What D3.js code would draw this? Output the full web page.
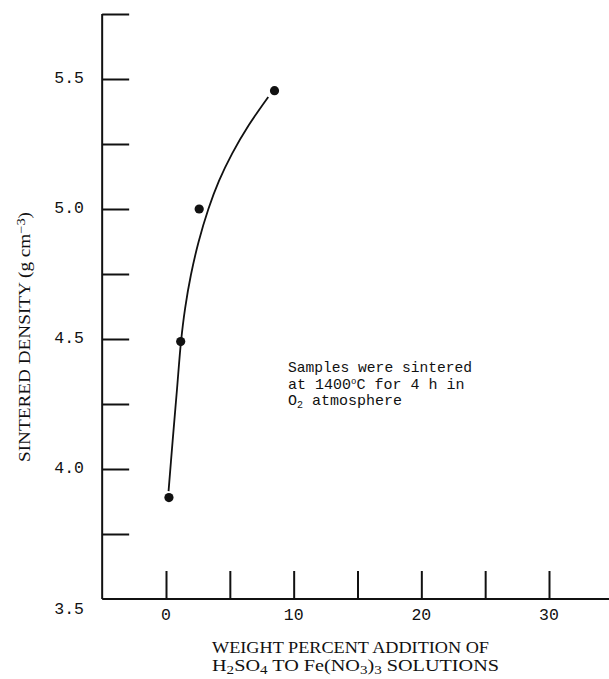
<!DOCTYPE html>
<html>
<head>
<meta charset="utf-8">
<script src="https://cdn.jsdelivr.net/npm/d3@7"></script>
<style>
  html, body { margin: 0; padding: 0; background: #fff; }
  svg { display: block; }
</style>
</head>
<body>
<svg id="chart" width="609" height="679"></svg>
<script>
// ---- data ----
const additionWt = [0.23, 1.15, 2.6, 8.5];          // wt% H2SO4 added
const sinteredDensity = [3.89, 4.49, 5.0, 5.455];   // g cm^-3

// hand-drawn fit curve
const curveWt      = [0.20, 0.52, 0.85, 1.18, 1.50, 1.95, 2.55, 3.32, 4.15, 5.20, 6.49, 8.01];
const curveDensity = [3.915, 4.108, 4.30, 4.492, 4.619, 4.746, 4.873, 5.00, 5.108, 5.215, 5.323, 5.431];

const xTickValues = [0, 5, 10, 15, 20, 25, 30];
const xTickLabels = ["0", "10", "20", "30"];
const yTickValues = [3.75, 4.0, 4.25, 4.5, 4.75, 5.0, 5.25, 5.5, 5.75];
const yTickLabels = ["3.5", "4.0", "4.5", "5.0", "5.5"];

const xDomain = [-5, 34.7];
const yDomain = [3.5, 5.75];

const noteLines = ["Samples were sintered", "at 1400", "C for 4 h in", "O", "2", " atmosphere"];

// ---- drawing ----
const svg = d3.select("#chart");
const x = d3.scaleLinear().domain([0, 30]).range([166, 549]);
const y = d3.scaleLinear().domain(yDomain).range([599, 14]);

const ink = "#111";
const monoFont = "'Liberation Mono', 'DejaVu Sans Mono', monospace";
const serifFont = "'Liberation Serif', 'DejaVu Serif', serif";

// axis frame lines
svg.append("line")
  .attr("x1", x(xDomain[0])).attr("x2", x(xDomain[0]))
  .attr("y1", y(yDomain[0])).attr("y2", y(yDomain[1]))
  .attr("stroke", ink).attr("stroke-width", 2);
svg.append("line")
  .attr("x1", x(xDomain[0])).attr("x2", x(xDomain[1]))
  .attr("y1", y(yDomain[0])).attr("y2", y(yDomain[0]))
  .attr("stroke", ink).attr("stroke-width", 2);

// y ticks (pointing inward)
const yAxis = d3.axisRight(y).tickValues(yTickValues).tickSize(27).tickFormat("");
const gy = svg.append("g").attr("transform", `translate(${x(xDomain[0])},0)`).call(yAxis);
gy.select(".domain").remove();
gy.selectAll(".tick line").attr("stroke", ink).attr("stroke-width", 2);

// x ticks (pointing upward)
const xAxis = d3.axisTop(x).tickValues(xTickValues).tickSize(28).tickFormat("");
const gx = svg.append("g").attr("transform", `translate(0,${y(yDomain[0])})`).call(xAxis);
gx.select(".domain").remove();
gx.selectAll(".tick line").attr("stroke", ink).attr("stroke-width", 2);

// y tick labels
svg.selectAll("text.ylab").data(yTickLabels).enter().append("text")
  .attr("class", "ylab")
  .attr("x", 84)
  .attr("y", d => y(+d) + (+d === 3.5 ? 15 : 4))
  .attr("text-anchor", "end")
  .attr("font-family", monoFont).attr("font-size", 16.5)
  .attr("fill", ink)
  .text(d => d);

// x tick labels
svg.selectAll("text.xlab").data(xTickLabels).enter().append("text")
  .attr("class", "xlab")
  .attr("x", d => x(+d))
  .attr("y", 620)
  .attr("text-anchor", "middle")
  .attr("font-family", monoFont).attr("font-size", 16.5)
  .attr("fill", ink)
  .text(d => d);

// fitted curve
const curvePts = curveWt.map((w, i) => [w, curveDensity[i]]);
svg.append("path")
  .datum(curvePts)
  .attr("d", d3.line().x(d => x(d[0])).y(d => y(d[1])).curve(d3.curveCatmullRom.alpha(0.5)))
  .attr("fill", "none").attr("stroke", ink).attr("stroke-width", 1.8);

// data points
svg.selectAll("circle.pt").data(additionWt).enter().append("circle")
  .attr("class", "pt")
  .attr("cx", d => x(d))
  .attr("cy", (d, i) => y(sinteredDensity[i]))
  .attr("r", 4.6)
  .attr("fill", ink);

// annotation
const note = svg.append("g").attr("font-family", monoFont).attr("font-size", 15).attr("fill", ink);
note.append("text").attr("x", 288).attr("y", 372)
  .attr("textLength", 184).attr("lengthAdjust", "spacingAndGlyphs").text(noteLines[0]);
const l2 = note.append("text").attr("x", 288).attr("y", 389);
l2.append("tspan").text(noteLines[1]);
l2.append("tspan").attr("font-size", 9).attr("dy", -5).text("o");
l2.append("tspan").attr("dy", 5).text(noteLines[2]);
const l3 = note.append("text").attr("x", 288).attr("y", 405);
l3.append("tspan").text(noteLines[3]);
l3.append("tspan").attr("font-size", 10).attr("dy", 3).text(noteLines[4]);
l3.append("tspan").attr("dy", -3).text(noteLines[5]);

// x axis title
const xt = svg.append("g").attr("font-family", serifFont).attr("font-size", 16).attr("fill", ink);
xt.append("text").attr("x", 212).attr("y", 653)
  .attr("textLength", 277).attr("lengthAdjust", "spacingAndGlyphs")
  .text("WEIGHT PERCENT ADDITION OF");
const xt2 = xt.append("text").attr("x", 212).attr("y", 671)
  .attr("textLength", 287).attr("lengthAdjust", "spacingAndGlyphs");
const sub = (t, parts) => parts.forEach(([s, isSub]) => {
  const ts = t.append("tspan").text(s);
  if (isSub) ts.attr("font-size", 12).attr("baseline-shift", "-25%");
});
sub(xt2, [["H", 0], ["2", 1], ["SO", 0], ["4", 1], [" TO Fe(NO", 0], ["3", 1], [")", 0], ["3", 1], [" SOLUTIONS", 0]]);

// y axis title
const yt = svg.append("text")
  .attr("transform", "translate(30,337) rotate(-90)")
  .attr("text-anchor", "middle")
  .attr("textLength", 250).attr("lengthAdjust", "spacingAndGlyphs")
  .attr("font-family", serifFont).attr("font-size", 16).attr("fill", ink);
yt.append("tspan").text("SINTERED DENSITY (g cm");
yt.append("tspan").attr("font-size", 12).attr("baseline-shift", "40%").text("−3");
yt.append("tspan").text(")");
</script>
</body>
</html>
